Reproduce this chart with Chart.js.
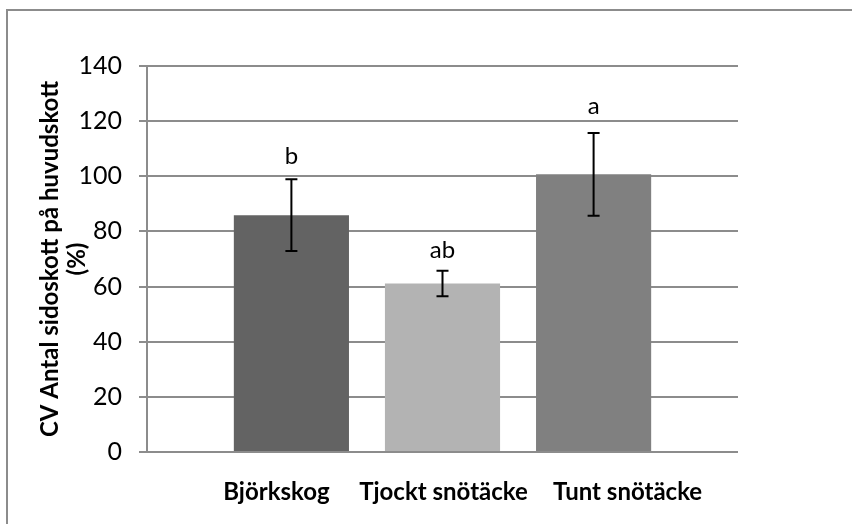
<!DOCTYPE html>
<html>
<head>
<meta charset="utf-8">
<script src="https://cdn.jsdelivr.net/npm/chart.js@4/dist/chart.umd.min.js"></script>
<style>
html, body { margin: 0; padding: 0; background: #fff; }
#wrap { position: relative; width: 852px; height: 524px; }
#frame { position: absolute; left: 6px; top: 9px; right: 0; bottom: 0; border-left: 2px solid #8c8c8c; border-top: 2px solid #8c8c8c; pointer-events: none; }
</style>
</head>
<body>
<div id="wrap">
  <canvas id="chart" width="852" height="524"></canvas>
  <div id="frame"></div>
</div>
<script>
// values
var categories = ["Björkskog", "Tjockt snötäcke", "Tunt snötäcke"];
var cvValues = [85.9, 61.1, 100.7];
var errValues = [13.0, 4.6, 15.0];
var letters = ["b", "ab", "a"];
var yTicks = [0, 20, 40, 60, 80, 100, 120, 140];

var barColors = ["#636363", "#b3b3b3", "#808080"];
var nameShift = [-15, 1, 34];
var letterGap = [15, 13, 19];
var font = "Lato";

let errorBars = {
    id: "errorBars",
    afterDatasetsDraw: (chart) => {
        let ctx = chart.ctx;
        let y = chart.scales.y;
        ctx.save();
        for (let i = 0; i < categories.length; i++) {
            let bar = chart.getDatasetMeta(i).data[0];
            let top = y.getPixelForValue(cvValues[i] + errValues[i]);
            let bottom = y.getPixelForValue(cvValues[i] - errValues[i]);
            ctx.strokeStyle = "#000";
            ctx.lineWidth = 2;
            ctx.beginPath();
            ctx.moveTo(bar.x, top);
            ctx.lineTo(bar.x, bottom);
            ctx.moveTo(bar.x - 6, top);
            ctx.lineTo(bar.x + 6, top);
            ctx.moveTo(bar.x - 6, bottom);
            ctx.lineTo(bar.x + 6, bottom);
            ctx.stroke();

            ctx.fillStyle = "#000";
            ctx.font = "24px " + font;
            ctx.textAlign = "center";
            ctx.textBaseline = "alphabetic";
            ctx.fillText(letters[i], bar.x, top - letterGap[i]);

            // category names under the axis
            ctx.font = "bold 24px " + font;
            ctx.fillText(categories[i], bar.x + nameShift[i], chart.chartArea.bottom + 48);
        }
        ctx.restore();
    }
};

let chart = new Chart(document.getElementById("chart"), {
    type: "bar",
    data: {
        labels: [""],
        datasets: categories.map((c, i) => ({
            label: c,
            data: [cvValues[i]],
            backgroundColor: barColors[i],
            borderWidth: 0,
            categoryPercentage: 0.767,
            barPercentage: 0.762
        }))
    },
    options: {
        responsive: false,
        animation: false,
        events: [],
        layout: { padding: { left: 0, top: 66, right: 114, bottom: 0 } },
        plugins: {
            legend: { display: false },
            tooltip: { enabled: false }
        },
        scales: {
            x: {
                grid: { display: false },
                border: { display: false },
                ticks: { display: false },
                afterFit: (scale) => { scale.height = 72; }
            },
            y: {
                min: 0,
                max: 140,
                afterBuildTicks: (scale) => { scale.ticks = yTicks.map(v => ({ value: v })); },
                ticks: {
                    color: "#000",
                    padding: 17,
                    font: { family: font, size: 25 }
                },
                grid: { color: "#8c8c8c", lineWidth: 2, tickLength: 8 },
                border: { color: "#8c8c8c", width: 2 },
                title: {
                    display: true,
                    text: ["CV Antal sidoskott på huvudskott", "(%)"],
                    color: "#000",
                    font: { family: font, size: 24, weight: "bold", lineHeight: 1.15 },
                    padding: { top: 36, bottom: 0 }
                },
                afterFit: (scale) => { scale.width = 147; }
            }
        }
    },
    plugins: [errorBars]
});
</script>
</body>
</html>
